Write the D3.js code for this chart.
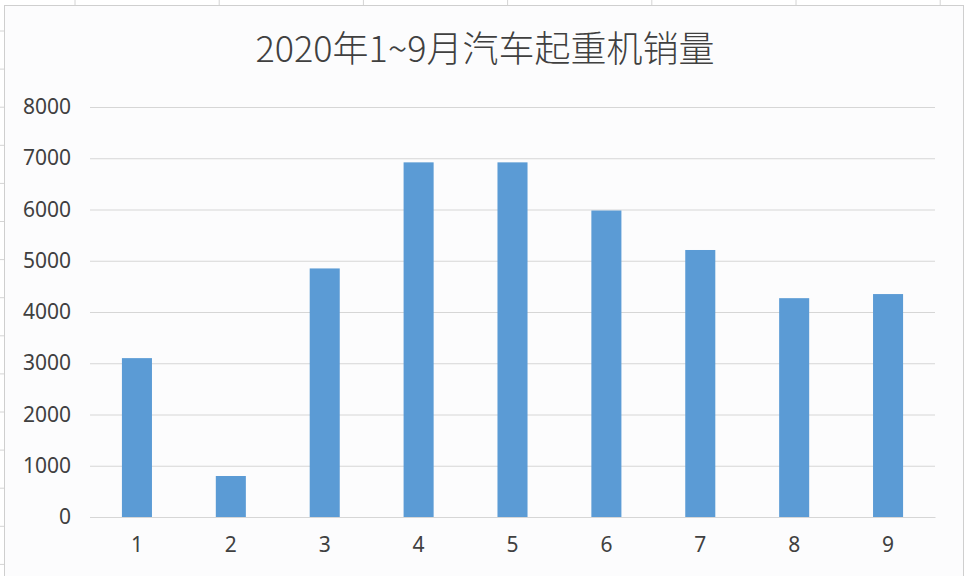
<!DOCTYPE html>
<html>
<head>
<meta charset="utf-8">
<script src="https://cdn.jsdelivr.net/npm/d3@7"></script>
<style>
  html, body { margin: 0; padding: 0; background: #ffffff; }
  svg { display: block; }
</style>
</head>
<body>
<script>

const months = ["1", "2", "3", "4", "5", "6", "7", "8", "9"]
const sales = [3100, 800, 4850, 6920, 6920, 5980, 5210, 4270, 4350]
const yTicks = [0, 1000, 2000, 3000, 4000, 5000, 6000, 7000, 8000]
const chartTitle = "2020年1~9月汽车起重机销量"

window.onload = function (){

    const width = 966
    const height = 576
    const plot = {left: 90, right: 935, top: 107, bottom: 517}

    const svg = d3.select('body')
        .append('svg')
        .attr('width', width)
        .attr('height', height)

    // spreadsheet cells peeking out behind the chart
    const sheet = svg.append('g').attr('class', 'sheet')
    d3.range(75, width, 144.2).forEach(x => {
        sheet.append('line')
            .attr('x1', x).attr('x2', x)
            .attr('y1', 0).attr('y2', 6)
            .attr('stroke', '#d4d4d4')
    })
    d3.range(31, height, 38.1).forEach(y => {
        sheet.append('line')
            .attr('x1', 0).attr('x2', 5)
            .attr('y1', y).attr('y2', y)
            .attr('stroke', '#d4d4d4')
    })

    // chart area
    svg.append('rect')
        .attr('x', 4.5)
        .attr('y', 5.5)
        .attr('width', 959)
        .attr('height', height + 10)
        .attr('fill', '#fcfcfd')
        .attr('stroke', '#cfcfcf')

    const x = d3.scaleBand()
        .domain(months)
        .range([plot.left, plot.right])
        .paddingInner(0.68)
        .paddingOuter(0.34)

    const y = d3.scaleLinear()
        .domain([0, 8000])
        .range([plot.bottom, plot.top])

    // gridlines + y labels
    const yAxis = svg.append('g')
        .attr('transform', 'translate(' + plot.left + ',0)')
        .call(d3.axisLeft(y)
            .tickValues(yTicks)
            .tickFormat(d3.format('d'))
            .tickSize(-(plot.right - plot.left))
            .tickPadding(19))

    yAxis.select('.domain').remove()
    yAxis.selectAll('.tick line')
        .attr('stroke', '#d6d6d6')
    yAxis.selectAll('.tick text')
        .attr('fill', '#404040')
        .style('font-family', '"Noto Sans", sans-serif')
        .style('font-size', '21px')

    // bars
    svg.append('g')
        .selectAll('rect')
        .data(sales)
        .join('rect')
        .attr('x', (d, i) => x(months[i]))
        .attr('y', d => y(d))
        .attr('width', x.bandwidth())
        .attr('height', d => y(0) - y(d))
        .attr('fill', '#5b9bd5')

    // x axis
    const xAxis = svg.append('g')
        .attr('transform', 'translate(0,' + plot.bottom + ')')
        .call(d3.axisBottom(x).tickSize(0).tickPadding(20))

    xAxis.select('.domain')
        .attr('stroke', '#d6d6d6')
    xAxis.selectAll('.tick text')
        .attr('fill', '#404040')
        .style('font-family', '"Noto Sans", sans-serif')
        .style('font-size', '21px')

    // title
    svg.append('text')
        .attr('x', 485)
        .attr('y', 62)
        .attr('text-anchor', 'middle')
        .attr('fill', '#404040')
        .style('font-family', '"Noto Sans CJK SC", sans-serif')
        .style('font-weight', 300)
        .style('font-size', '36px')
        .text(chartTitle)
}

</script>
</body>
</html>
